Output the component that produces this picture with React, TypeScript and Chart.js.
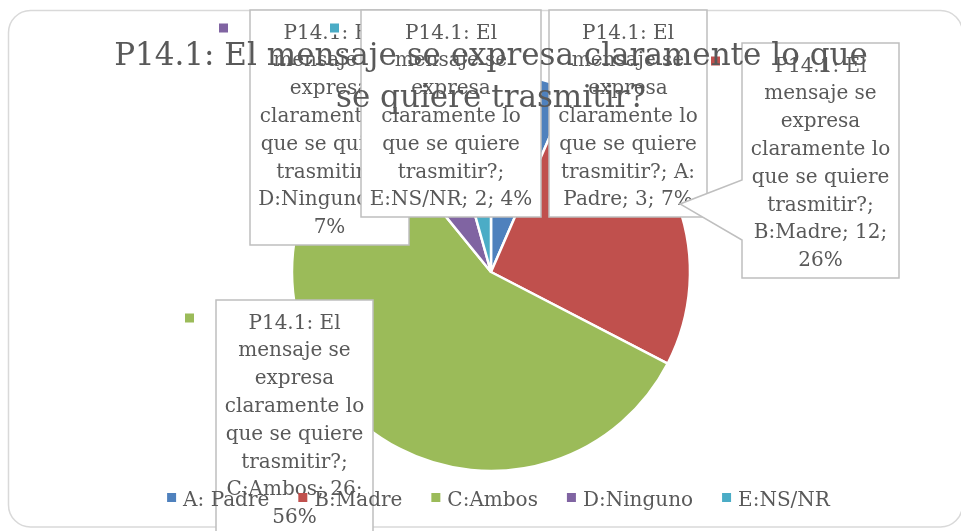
import React, { useEffect, useRef } from "react";
import { Chart, registerables } from "chart.js";

Chart.register(...registerables);

// ---- data ----
const CHART_TITLE = "P14.1: El mensaje se expresa claramente lo que se quiere trasmitir?";
const CATEGORIES = ["A: Padre", "B:Madre", "C:Ambos", "D:Ninguno", "E:NS/NR"];
const VALUES = [3, 12, 26, 3, 2];
const PERCENT_LABELS = ["7%", "26%", "56%", "7%", "4%"];

// ---- styles / layout ----
const COLORS = ["#4F81BD", "#C0504D", "#9BBB59", "#8064A2", "#4BACC6"];
const FONT = '"DejaVu Serif", "Liberation Serif", serif';
const TEXT_COLOR = "#595959";
const W = 961;
const H = 531;

type Box = { x: number; y: number; w: number; h: number; pointer?: [number, number, number, number] };
// manually placed data-label callouts (as in the source workbook)
const LABEL_BOXES: Box[] = [
  { x: 549, y: 10, w: 158, h: 207 },
  { x: 742, y: 43, w: 157, h: 235, pointer: [680, 204, 180, 240] },
  { x: 216, y: 300, w: 157, h: 245 },
  { x: 250, y: 10, w: 159, h: 235 },
  { x: 361, y: 10, w: 180, h: 207 },
];

function wrap(ctx: CanvasRenderingContext2D, text: string, maxW: number): string[] {
  const words = text.split(" ");
  const lines: string[] = [];
  let cur = "";
  for (const w of words) {
    const t = cur ? cur + " " + w : w;
    if (cur && ctx.measureText(t).width > maxW) {
      lines.push(cur);
      cur = w;
    } else cur = t;
  }
  if (cur) lines.push(cur);
  return lines;
}

const decorPlugin = {
  id: "decor",
  beforeDraw(chart: any) {
    const ctx: CanvasRenderingContext2D = chart.ctx;
    ctx.save();
    ctx.fillStyle = "#ffffff";
    ctx.fillRect(0, 0, chart.width, chart.height);
    ctx.strokeStyle = "#d9d9d9";
    ctx.lineWidth = 1.5;
    ctx.beginPath();
    (ctx as any).roundRect(8.5, 10.5, 954, 516.5, 22);
    ctx.stroke();
    ctx.restore();
  },
  afterDraw(chart: any) {
    const ctx: CanvasRenderingContext2D = chart.ctx;
    ctx.save();
    // data-label callouts
    ctx.font = `20px ${FONT}`;
    ctx.textAlign = "center";
    ctx.textBaseline = "alphabetic";
    LABEL_BOXES.forEach((b, i) => {
      ctx.fillStyle = "#ffffff";
      ctx.fillRect(b.x - 33, b.y + 11.5, 13, 13);
      ctx.fillStyle = COLORS[i];
      ctx.fillRect(b.x - 31, b.y + 13.5, 9, 9);

      ctx.beginPath();
      ctx.moveTo(b.x, b.y);
      ctx.lineTo(b.x + b.w, b.y);
      ctx.lineTo(b.x + b.w, b.y + b.h);
      ctx.lineTo(b.x, b.y + b.h);
      if (b.pointer) {
        ctx.lineTo(b.x, b.pointer[3]);
        ctx.lineTo(b.pointer[0], b.pointer[1]);
        ctx.lineTo(b.x, b.pointer[2]);
      }
      ctx.closePath();
      ctx.fillStyle = "#ffffff";
      ctx.fill();
      ctx.strokeStyle = "#bfbfbf";
      ctx.lineWidth = 1.5;
      ctx.stroke();

      const text = `${CHART_TITLE}; ${CATEGORIES[i]}; ${VALUES[i]}; ${PERCENT_LABELS[i]}`;
      const lines = wrap(ctx, text, b.w - 12);
      ctx.fillStyle = TEXT_COLOR;
      lines.forEach((l, k) => ctx.fillText(l, b.x + b.w / 2, b.y + 28.5 + k * 27.8));
    });

    // title
    ctx.font = `31px ${FONT}`;
    ctx.fillStyle = TEXT_COLOR;
    const tLines = wrap(ctx, CHART_TITLE, 780);
    tLines.forEach((l, k) => ctx.fillText(l, 491, 65 + k * 42));

    // legend
    ctx.font = `20px ${FONT}`;
    ctx.textAlign = "left";
    const gap = 29;
    const items = CATEGORIES.map((c) => 16 + ctx.measureText(c).width);
    const total = items.reduce((a, b) => a + b, 0) + gap * (items.length - 1);
    let x = 498.5 - total / 2;
    CATEGORIES.forEach((c, i) => {
      ctx.fillStyle = COLORS[i];
      ctx.fillRect(x, 493, 9, 9);
      ctx.fillStyle = TEXT_COLOR;
      ctx.fillText(c, x + 16, 506);
      x += items[i] + gap;
    });
    ctx.restore();
  },
};

export default function App() {
  const ref = useRef<HTMLCanvasElement | null>(null);
  useEffect(() => {
    if (!ref.current) return;
    const chart = new Chart(ref.current, {
      type: "pie",
      data: {
        labels: CATEGORIES,
        datasets: [
          {
            data: VALUES,
            backgroundColor: COLORS,
            borderColor: "#ffffff",
            borderWidth: 2.5,
          },
        ],
      },
      options: {
        responsive: false,
        animation: false,
        radius: 199,
        layout: { padding: { left: 100, right: 79, top: 50, bottom: 37 } },
        plugins: {
          legend: { display: false },
          title: { display: false },
          tooltip: { enabled: false },
        },
        events: [],
      } as any,
      plugins: [decorPlugin],
    });
    return () => chart.destroy();
  }, []);
  return (
    <div style={{ position: "fixed", left: 0, top: 0, width: W, height: H, background: "#fff" }}>
      <canvas ref={ref} width={W} height={H} style={{ display: "block", width: W, height: H }} />
    </div>
  );
}
